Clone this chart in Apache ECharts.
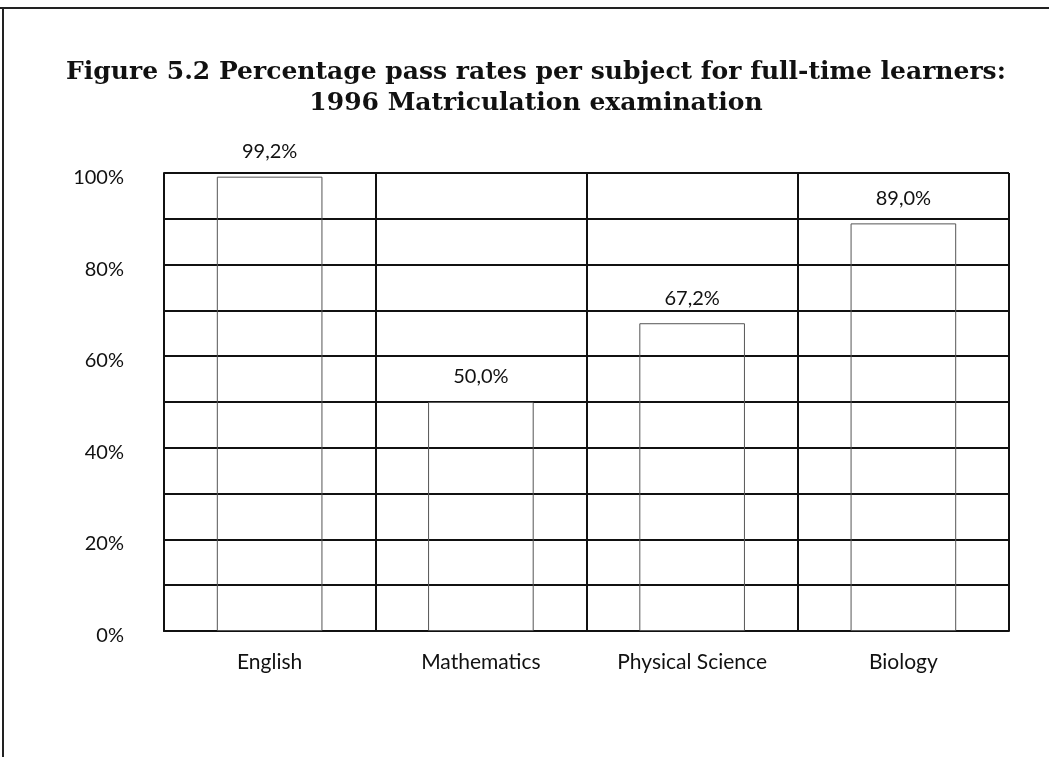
<!DOCTYPE html>
<html>
<head>
<meta charset="utf-8">
<title>Figure 5.2</title>
<script src="https://cdn.jsdelivr.net/npm/echarts@6/dist/echarts.min.js"></script>
<style>
  html, body { margin: 0; padding: 0; background: #fff; }
  #chart { width: 1049px; height: 757px; }
</style>
</head>
<body>
<div id="chart"></div>
<script>
// subjects and 1996 pass rates (%)
var subjects = ['English', 'Mathematics', 'Physical Science', 'Biology']
var passRates = [99.2, 50.0, 67.2, 89.0]
// only every second gridline gets a label
var labelledTicks = [0, 20, 40, 60, 80, 100]

var titleText = 'Figure 5.2 Percentage pass rates per subject for full-time learners:\n1996 Matriculation examination'

function commaPct(v) {
  return v.toFixed(1).replace('.', ',') + '%'
}

var chart = echarts.init(document.getElementById('chart'))
chart.setOption({
  backgroundColor: '#fff',
  animation: false,
  title: {
    text: titleText,
    left: 531,
    top: 52,
    textAlign: 'center',
    textStyle: {
      fontFamily: 'DejaVu Serif',
      fontWeight: 'bold',
      fontSize: 25,
      lineHeight: 31,
      color: '#111'
    }
  },
  graphic: [
    // scanned page border
    { type: 'line', shape: { x1: 0, y1: 8, x2: 1049, y2: 8 }, style: { stroke: '#222', lineWidth: 2 } },
    { type: 'line', shape: { x1: 3, y1: 8, x2: 3, y2: 757 }, style: { stroke: '#222', lineWidth: 2 } }
  ],
  grid: {
    left: 164,
    right: 40,
    top: 173,
    bottom: 126
  },
  xAxis: {
    type: 'category',
    data: subjects,
    axisTick: { show: false },
    axisLine: { show: true, lineStyle: { color: '#111', width: 2 } },
    splitLine: { show: true, lineStyle: { color: '#111', width: 2 } },
    axisLabel: {
      margin: 21,
      fontFamily: 'Lato',
      fontSize: 21,
      color: '#111'
    }
  },
  yAxis: {
    type: 'value',
    min: 0,
    max: 100,
    interval: 10,
    axisTick: { show: false },
    axisLine: { show: true, lineStyle: { color: '#111', width: 2 } },
    splitLine: { show: true, lineStyle: { color: '#111', width: 2 } },
    axisLabel: {
      margin: 40,
      fontFamily: 'Lato',
      fontSize: 20,
      color: '#111',
      formatter: function(v) {
        return labelledTicks.indexOf(v) >= 0 ? '{t|' + v + '%}' : ''
      },
      rich: {
        t: {
          fontFamily: 'Lato',
          fontSize: 20,
          color: '#111',
          padding: [9, 0, 0, 0]
        }
      }
    }
  },
  series: [
    {
      type: 'bar',
      data: passRates,
      barWidth: '50%',
      itemStyle: {
        color: 'rgba(0,0,0,0)',
        borderColor: '#555',
        borderWidth: 1
      },
      label: {
        show: true,
        position: 'top',
        distance: 15,
        fontFamily: 'Lato',
        fontSize: 20,
        color: '#111',
        formatter: function(p) {
          return commaPct(p.value)
        }
      }
    }
  ]
})
</script>
</body>
</html>
